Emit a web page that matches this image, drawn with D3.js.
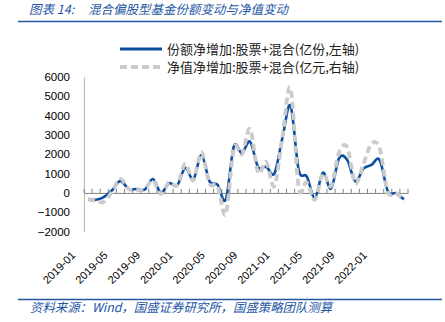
<!DOCTYPE html>
<html><head><meta charset="utf-8">
<script src="https://cdn.jsdelivr.net/npm/d3@7"></script>
<style>body{margin:0;background:#fff}svg{display:block}</style>
</head><body>
<svg id="c" width="445" height="322"></svg>
<script>
const months = [
 "2019-01","2019-02","2019-03","2019-04","2019-05","2019-06","2019-07","2019-08","2019-09","2019-10","2019-11","2019-12",
 "2020-01","2020-02","2020-03","2020-04","2020-05","2020-06","2020-07","2020-08","2020-09","2020-10","2020-11","2020-12",
 "2021-01","2021-02","2021-03","2021-04","2021-05","2021-06","2021-07","2021-08","2021-09","2021-10","2021-11","2021-12",
 "2022-01","2022-02","2022-03","2022-04"];
const shareIncrease = [-350,-350,-200,150,620,200,200,170,720,20,500,380,
 1300,700,1950,600,420,-350,2400,2050,2650,1330,1350,1000,
 2850,4500,1200,850,-250,1050,220,1800,1700,600,1250,1450,
 1700,100,-20,-330];
const navIncrease = [-300,-420,-450,100,720,200,150,200,650,-50,550,400,
 1500,650,2100,480,350,-1100,2300,2000,3300,1050,1600,350,
 2900,5400,300,550,-350,1000,350,2100,2350,500,1500,2550,
 2300,50,0,-400];
const yTicks = [-2000,-1000,0,1000,2000,3000,4000,5000,6000];
const xLabels = ["2019-01","2019-05","2019-09","2020-01","2020-05","2020-09","2021-01","2021-05","2021-09","2022-01"];
const seriesNames = ["份额净增加:股票+混合(亿份,左轴)","净值净增加:股票+混合(亿元,右轴)"];
const titleLabel = "图表 14:";
const titleText = "混合偏股型基金份额变动与净值变动";
const sourceText = "资料来源：Wind，国盛证券研究所，国盛策略团队测算";

const svg = d3.select("#c");
const blue = "#0b4ea2", gray = "#cbcbcb", hdr = "#2456a4";
const cjk = "'Noto Sans CJK SC','Noto Sans',sans-serif";
const num = "'Liberation Sans',Arial,sans-serif";

// header
svg.append("text").attr("x",29).attr("y",14).attr("fill",hdr).attr("font-family",cjk)
  .attr("font-size",12.5).attr("font-style","italic").text(titleLabel);
svg.append("text").attr("x",88).attr("y",14).attr("fill",hdr).attr("font-family",cjk)
  .attr("font-size",12.5).attr("font-style","italic").text(titleText);
svg.append("line").attr("x1",18).attr("x2",442).attr("y1",21.5).attr("y2",21.5)
  .attr("stroke",hdr).attr("stroke-width",1.5);
svg.append("line").attr("x1",18).attr("x2",442).attr("y1",299.5).attr("y2",299.5)
  .attr("stroke",hdr).attr("stroke-width",1.5);
svg.append("text").attr("x",30).attr("y",312).attr("fill",hdr).attr("font-family",cjk)
  .attr("font-size",12.4).attr("font-style","italic").text(sourceText);

// scales
const x = d3.scaleBand().domain(months).range([84,408]).padding(0);
const cx = d => x(d) + x.bandwidth()/2;
const y = d3.scaleLinear().domain([-2000,6000]).range([231.6,76.8]);

// y axis
const ya = svg.append("g").attr("transform","translate(84,0)")
  .call(d3.axisLeft(y).tickValues(yTicks).tickSize(0).tickPadding(14).tickFormat(d3.format("d")));
ya.select(".domain").attr("stroke","#bfbfbf").attr("stroke-width",1.2);
ya.selectAll("text").attr("font-family",num).attr("font-size",11.5).attr("fill","#000");

// x axis at zero
const xa = svg.append("g").attr("transform",`translate(0,${y(0)})`)
  .call(d3.axisBottom(x).tickValues([]).tickSizeOuter(0));
xa.select(".domain").attr("stroke","#808080").attr("stroke-width",1);
const bounds = months.map(m => x(m)).concat([x(months[months.length-1]) + x.bandwidth()]);
svg.append("g").selectAll("line").data(bounds).join("line")
  .attr("x1",d=>d).attr("x2",d=>d).attr("y1",y(0)-4).attr("y2",y(0))
  .attr("stroke","#808080").attr("stroke-width",1);

// x labels
svg.append("g").selectAll("text").data(xLabels).join("text")
  .attr("transform", d => `translate(${cx(d)-12},256) rotate(-45)`)
  .attr("text-anchor","end").attr("font-family",num).attr("font-size",11).attr("fill","#000")
  .text(d=>d);

// lines
const line = vals => d3.line().x((d,i)=>cx(months[i])).y(d=>y(d)).curve(d3.curveCardinal.tension(0))(vals);
svg.append("path").attr("d",line(shareIncrease)).attr("fill","none").attr("stroke",blue).attr("stroke-width",2.6);
svg.append("path").attr("d",line(navIncrease)).attr("fill","none").attr("stroke",gray).attr("stroke-width",3.8)
  .attr("stroke-dasharray","7,4");

// legend
const lg = svg.append("g");
[[blue,null,3],[gray,"7,4",3.8]].forEach((s,i)=>{
  const yy = 49 + i*18;
  lg.append("line").attr("x1",120).attr("x2",162).attr("y1",yy).attr("y2",yy)
    .attr("stroke",s[0]).attr("stroke-width",s[2]).attr("stroke-dasharray",s[1]);
  lg.append("text").attr("x",167).attr("y",yy+4.5).attr("font-family",cjk).attr("font-size",13)
    .attr("fill","#222").text(seriesNames[i]);
});
</script>
</body></html>
